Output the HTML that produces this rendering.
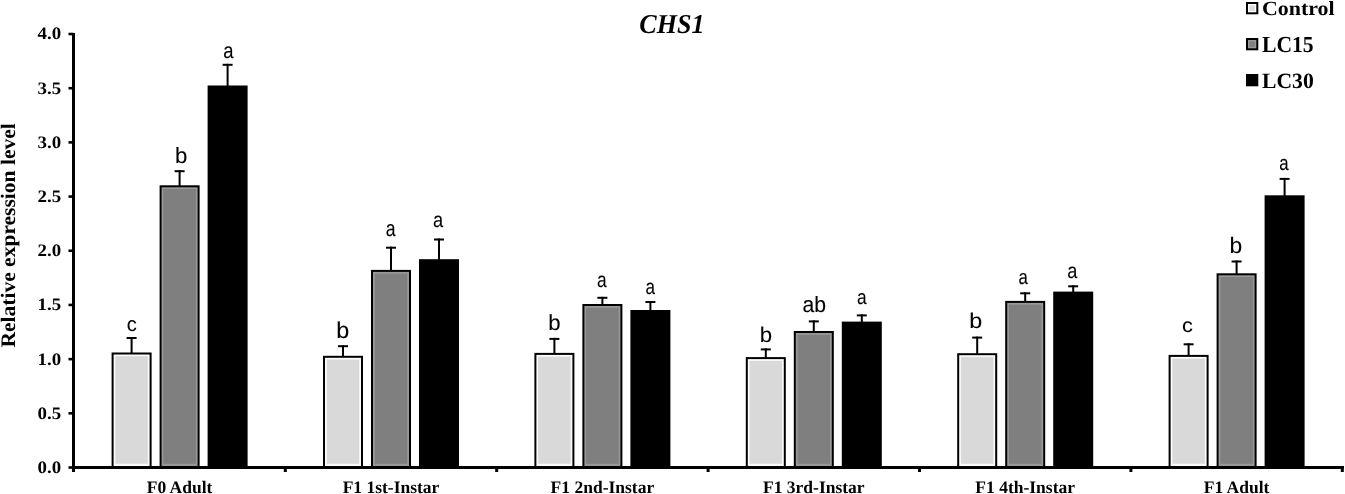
<!DOCTYPE html>
<html><head><meta charset="utf-8"><title>CHS1</title><style>
html,body{margin:0;padding:0;background:#fff;width:1345px;height:494px;overflow:hidden}
svg{display:block;filter:grayscale(1)}
text{text-rendering:geometricPrecision}
.t{font-family:"Liberation Serif",serif;font-weight:bold;fill:#000}
.s{font-family:"Liberation Sans",sans-serif;font-weight:normal;fill:#000;stroke:#000;stroke-width:0.1}
</style></head><body>
<svg width="1345" height="494" viewBox="0 0 1345 494">
<rect x="111.60" y="352.50" width="40" height="113.50" fill="#000"/>
<rect x="113.60" y="354.50" width="36" height="111.50" fill="#fbfbfb"/>
<rect x="115.35" y="356.25" width="32.5" height="107.55" fill="#d9d9d9"/>
<rect x="130.60" y="337.00" width="2" height="16.50" fill="#000"/>
<rect x="126.60" y="337.00" width="10" height="2" fill="#000"/>
<text class="s" font-size="22" text-anchor="middle" transform="matrix(0.9122,0,0,0.9224,131.74,330.50)">c</text>
<rect x="159.60" y="185.30" width="40" height="280.70" fill="#000"/>
<rect x="161.60" y="187.30" width="36" height="278.70" fill="#989898"/>
<rect x="163.35" y="189.05" width="32.5" height="274.75" fill="#7f7f7f"/>
<rect x="178.60" y="170.20" width="2" height="16.10" fill="#000"/>
<rect x="174.60" y="170.20" width="10" height="2" fill="#000"/>
<text class="s" font-size="22" text-anchor="middle" transform="matrix(1.0090,0,0,0.9988,181.11,162.93)">b</text>
<rect x="207.60" y="85.50" width="40" height="380.50" fill="#000"/>
<rect x="226.60" y="63.80" width="2" height="22.70" fill="#000"/>
<rect x="222.60" y="63.80" width="10" height="2" fill="#000"/>
<text class="s" font-size="22" text-anchor="middle" transform="matrix(0.8370,0,0,0.9909,228.39,57.96)">a</text>
<rect x="323.00" y="355.80" width="40" height="110.20" fill="#000"/>
<rect x="325.00" y="357.80" width="36" height="108.20" fill="#fbfbfb"/>
<rect x="326.75" y="359.55" width="32.5" height="104.25" fill="#d9d9d9"/>
<rect x="342.00" y="345.20" width="2" height="11.60" fill="#000"/>
<rect x="338.00" y="345.20" width="10" height="2" fill="#000"/>
<text class="s" font-size="22" text-anchor="middle" transform="matrix(1.0595,0,0,1.0432,342.63,338.32)">b</text>
<rect x="371.00" y="269.90" width="40" height="196.10" fill="#000"/>
<rect x="373.00" y="271.90" width="36" height="194.10" fill="#989898"/>
<rect x="374.75" y="273.65" width="32.5" height="190.15" fill="#7f7f7f"/>
<rect x="390.00" y="246.70" width="2" height="24.20" fill="#000"/>
<rect x="386.00" y="246.70" width="10" height="2" fill="#000"/>
<text class="s" font-size="22" text-anchor="middle" transform="matrix(0.8013,0,0,1.0079,390.78,236.10)">a</text>
<rect x="419.00" y="259.20" width="40" height="206.80" fill="#000"/>
<rect x="438.00" y="238.50" width="2" height="21.70" fill="#000"/>
<rect x="434.00" y="238.50" width="10" height="2" fill="#000"/>
<text class="s" font-size="22" text-anchor="middle" transform="matrix(0.8293,0,0,0.9704,438.19,227.06)">a</text>
<rect x="534.40" y="352.90" width="40" height="113.10" fill="#000"/>
<rect x="536.40" y="354.90" width="36" height="111.10" fill="#fbfbfb"/>
<rect x="538.15" y="356.65" width="32.5" height="107.15" fill="#d9d9d9"/>
<rect x="553.40" y="337.90" width="2" height="16.00" fill="#000"/>
<rect x="549.40" y="337.90" width="10" height="2" fill="#000"/>
<text class="s" font-size="22" text-anchor="middle" transform="matrix(1.0077,0,0,0.9815,554.32,330.04)">b</text>
<rect x="582.40" y="304.00" width="40" height="162.00" fill="#000"/>
<rect x="584.40" y="306.00" width="36" height="160.00" fill="#989898"/>
<rect x="586.15" y="307.75" width="32.5" height="156.05" fill="#7f7f7f"/>
<rect x="601.40" y="296.80" width="2" height="8.20" fill="#000"/>
<rect x="597.40" y="296.80" width="10" height="2" fill="#000"/>
<text class="s" font-size="22" text-anchor="middle" transform="matrix(0.7860,0,0,0.9697,601.69,287.36)">a</text>
<rect x="630.40" y="310.00" width="40" height="156.00" fill="#000"/>
<rect x="649.40" y="301.00" width="2" height="10.00" fill="#000"/>
<rect x="645.40" y="301.00" width="10" height="2" fill="#000"/>
<text class="s" font-size="22" text-anchor="middle" transform="matrix(0.7742,0,0,0.9688,650.34,294.17)">a</text>
<rect x="745.80" y="357.10" width="40" height="108.90" fill="#000"/>
<rect x="747.80" y="359.10" width="36" height="106.90" fill="#fbfbfb"/>
<rect x="749.55" y="360.85" width="32.5" height="102.95" fill="#d9d9d9"/>
<rect x="764.80" y="348.40" width="2" height="9.70" fill="#000"/>
<rect x="760.80" y="348.40" width="10" height="2" fill="#000"/>
<text class="s" font-size="22" text-anchor="middle" transform="matrix(1.0096,0,0,0.9745,766.00,342.45)">b</text>
<rect x="793.80" y="331.00" width="40" height="135.00" fill="#000"/>
<rect x="795.80" y="333.00" width="36" height="133.00" fill="#989898"/>
<rect x="797.55" y="334.75" width="32.5" height="129.05" fill="#7f7f7f"/>
<rect x="812.80" y="320.40" width="2" height="11.60" fill="#000"/>
<rect x="808.80" y="320.40" width="10" height="2" fill="#000"/>
<text class="s" font-size="22" text-anchor="middle" transform="matrix(0.9630,0,0,1.0073,814.19,311.90)">ab</text>
<rect x="841.80" y="321.60" width="40" height="144.40" fill="#000"/>
<rect x="860.80" y="314.40" width="2" height="8.20" fill="#000"/>
<rect x="856.80" y="314.40" width="10" height="2" fill="#000"/>
<text class="s" font-size="22" text-anchor="middle" transform="matrix(0.7883,0,0,0.9266,861.89,304.34)">a</text>
<rect x="957.20" y="353.20" width="40" height="112.80" fill="#000"/>
<rect x="959.20" y="355.20" width="36" height="110.80" fill="#fbfbfb"/>
<rect x="960.95" y="356.95" width="32.5" height="106.85" fill="#d9d9d9"/>
<rect x="976.20" y="336.60" width="2" height="17.60" fill="#000"/>
<rect x="972.20" y="336.60" width="10" height="2" fill="#000"/>
<text class="s" font-size="22" text-anchor="middle" transform="matrix(1.0609,0,0,0.9732,975.86,328.27)">b</text>
<rect x="1005.20" y="300.90" width="40" height="165.10" fill="#000"/>
<rect x="1007.20" y="302.90" width="36" height="163.10" fill="#989898"/>
<rect x="1008.95" y="304.65" width="32.5" height="159.15" fill="#7f7f7f"/>
<rect x="1024.20" y="292.30" width="2" height="9.60" fill="#000"/>
<rect x="1020.20" y="292.30" width="10" height="2" fill="#000"/>
<text class="s" font-size="22" text-anchor="middle" transform="matrix(0.7612,0,0,0.9358,1023.27,284.16)">a</text>
<rect x="1053.20" y="291.60" width="40" height="174.40" fill="#000"/>
<rect x="1072.20" y="285.30" width="2" height="7.30" fill="#000"/>
<rect x="1068.20" y="285.30" width="10" height="2" fill="#000"/>
<text class="s" font-size="22" text-anchor="middle" transform="matrix(0.8247,0,0,0.9702,1072.38,278.03)">a</text>
<rect x="1168.60" y="354.90" width="40" height="111.10" fill="#000"/>
<rect x="1170.60" y="356.90" width="36" height="109.10" fill="#fbfbfb"/>
<rect x="1172.35" y="358.65" width="32.5" height="105.15" fill="#d9d9d9"/>
<rect x="1187.60" y="343.30" width="2" height="12.60" fill="#000"/>
<rect x="1183.60" y="343.30" width="10" height="2" fill="#000"/>
<text class="s" font-size="22" text-anchor="middle" transform="matrix(0.9780,0,0,0.9021,1187.40,332.06)">c</text>
<rect x="1216.60" y="273.30" width="40" height="192.70" fill="#000"/>
<rect x="1218.60" y="275.30" width="36" height="190.70" fill="#989898"/>
<rect x="1220.35" y="277.05" width="32.5" height="186.75" fill="#7f7f7f"/>
<rect x="1235.60" y="260.50" width="2" height="13.80" fill="#000"/>
<rect x="1231.60" y="260.50" width="10" height="2" fill="#000"/>
<text class="s" font-size="22" text-anchor="middle" transform="matrix(1.0386,0,0,1.0207,1235.94,253.16)">b</text>
<rect x="1264.60" y="195.30" width="40" height="270.70" fill="#000"/>
<rect x="1283.60" y="177.90" width="2" height="18.40" fill="#000"/>
<rect x="1279.60" y="177.90" width="10" height="2" fill="#000"/>
<text class="s" font-size="22" text-anchor="middle" transform="matrix(0.7644,0,0,0.9507,1283.96,169.52)">a</text>
<rect x="72" y="33" width="3" height="439" fill="#000"/>
<rect x="72" y="466" width="1272" height="3" fill="#000"/>
<rect x="68.5" y="466.20" width="5" height="2.6" fill="#000"/>
<text class="t" font-size="17.5" text-anchor="end" transform="matrix(1.08,0,0,1,61.1,472.90)">0.0</text>
<rect x="68.5" y="412.01" width="5" height="2.6" fill="#000"/>
<text class="t" font-size="17.5" text-anchor="end" transform="matrix(1.08,0,0,1,61.1,418.71)">0.5</text>
<rect x="68.5" y="357.83" width="5" height="2.6" fill="#000"/>
<text class="t" font-size="17.5" text-anchor="end" transform="matrix(1.08,0,0,1,61.1,364.53)">1.0</text>
<rect x="68.5" y="303.64" width="5" height="2.6" fill="#000"/>
<text class="t" font-size="17.5" text-anchor="end" transform="matrix(1.08,0,0,1,61.1,310.34)">1.5</text>
<rect x="68.5" y="249.46" width="5" height="2.6" fill="#000"/>
<text class="t" font-size="17.5" text-anchor="end" transform="matrix(1.08,0,0,1,61.1,256.16)">2.0</text>
<rect x="68.5" y="195.27" width="5" height="2.6" fill="#000"/>
<text class="t" font-size="17.5" text-anchor="end" transform="matrix(1.08,0,0,1,61.1,201.97)">2.5</text>
<rect x="68.5" y="141.09" width="5" height="2.6" fill="#000"/>
<text class="t" font-size="17.5" text-anchor="end" transform="matrix(1.08,0,0,1,61.1,147.79)">3.0</text>
<rect x="68.5" y="86.90" width="5" height="2.6" fill="#000"/>
<text class="t" font-size="17.5" text-anchor="end" transform="matrix(1.08,0,0,1,61.1,93.60)">3.5</text>
<rect x="68.5" y="32.72" width="5" height="2.6" fill="#000"/>
<text class="t" font-size="17.5" text-anchor="end" transform="matrix(1.08,0,0,1,61.1,39.42)">4.0</text>
<rect x="283.80" y="466" width="3" height="6" fill="#000"/>
<rect x="495.20" y="466" width="3" height="6" fill="#000"/>
<rect x="706.60" y="466" width="3" height="6" fill="#000"/>
<rect x="918.00" y="466" width="3" height="6" fill="#000"/>
<rect x="1129.40" y="466" width="3" height="6" fill="#000"/>
<rect x="1340.80" y="466" width="3" height="6" fill="#000"/>
<text class="t" x="179.60" y="493.2" font-size="17.5" text-anchor="middle">F0 Adult</text>
<text class="t" x="391.00" y="493.2" font-size="17.5" text-anchor="middle">F1 1st-Instar</text>
<text class="t" x="602.40" y="493.2" font-size="17.5" text-anchor="middle">F1 2nd-Instar</text>
<text class="t" x="813.80" y="493.2" font-size="17.5" text-anchor="middle">F1 3rd-Instar</text>
<text class="t" x="1025.20" y="493.2" font-size="17.5" text-anchor="middle">F1 4th-Instar</text>
<text class="t" x="1236.60" y="493.2" font-size="17.5" text-anchor="middle">F1 Adult</text>
<text class="t" x="0" y="0" font-size="20.6" text-anchor="middle" transform="translate(15.2,235.4) rotate(-90) scale(1.045,1)">Relative expression level</text>
<text class="t" font-size="26" text-anchor="middle" transform="matrix(1.0034,0,0,1.0499,672.00,32.75)" font-style="italic">CHS1</text>
<rect x="1246" y="2" width="12.3" height="12.3" fill="#000"/>
<rect x="1248" y="4" width="8.3" height="8.3" fill="#fbfbfb"/>
<rect x="1249.5" y="5.5" width="5.3" height="5.3" fill="#d9d9d9"/>
<text class="t" font-size="21" text-anchor="start" transform="matrix(1.0443,0,0,0.9623,1261.96,15.38)">Control</text>
<rect x="1246" y="38" width="12.3" height="12.3" fill="#000"/>
<rect x="1248" y="40" width="8.3" height="8.3" fill="#989898"/>
<rect x="1249.5" y="41.5" width="5.3" height="5.3" fill="#7f7f7f"/>
<text class="t" font-size="21" text-anchor="start" transform="matrix(1.0296,0,0,1.0911,1262.00,51.86)">LC15</text>
<rect x="1246" y="74" width="12.3" height="12.3" fill="#000"/>
<rect x="1248" y="76" width="8.3" height="8.3" fill="#000"/>
<rect x="1249.5" y="77.5" width="5.3" height="5.3" fill="#000"/>
<text class="t" font-size="21" text-anchor="start" transform="matrix(1.0310,0,0,1.0402,1262.02,87.94)">LC30</text>
</svg>
</body></html>
